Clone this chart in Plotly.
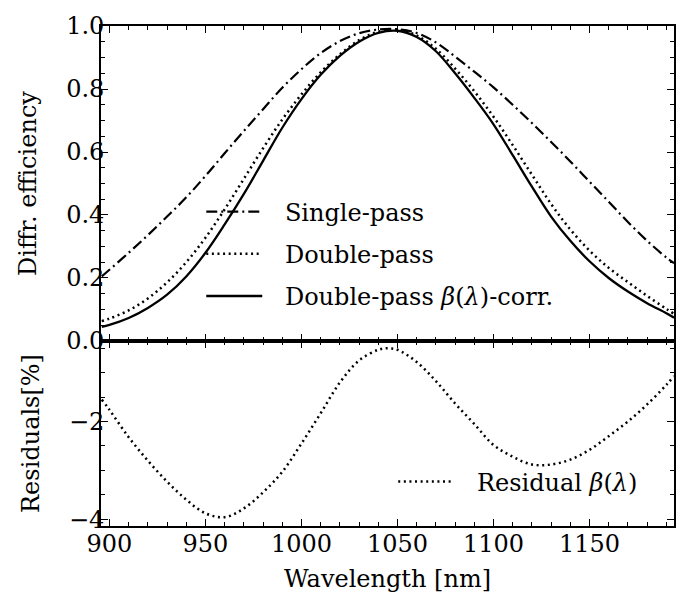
import plotly.graph_objects as go
from plotly.subplots import make_subplots

wavelength = [896, 900, 910, 920, 930, 940, 950, 960, 970, 980, 990, 1000, 1010, 1020,
              1030, 1040, 1050, 1060, 1070, 1080, 1090, 1100, 1110, 1120, 1130, 1140,
              1150, 1160, 1170, 1180, 1190, 1194]
single_pass = [0.205, 0.226, 0.280, 0.336, 0.395, 0.456, 0.524, 0.596, 0.667, 0.736, 0.804,
               0.863, 0.914, 0.952, 0.977, 0.989, 0.990, 0.978, 0.948, 0.903, 0.855, 0.805,
               0.750, 0.692, 0.632, 0.570, 0.506, 0.442, 0.378, 0.318, 0.265, 0.247]
double_pass = [0.063, 0.071, 0.097, 0.135, 0.186, 0.250, 0.328, 0.418, 0.515, 0.612, 0.703,
               0.783, 0.853, 0.910, 0.955, 0.982, 0.988, 0.970, 0.928, 0.865, 0.793, 0.712,
               0.622, 0.528, 0.435, 0.354, 0.287, 0.232, 0.187, 0.143, 0.102, 0.086]
double_pass_corr = [0.045, 0.051, 0.073, 0.105, 0.147, 0.205, 0.280, 0.370, 0.467, 0.572,
                    0.677, 0.768, 0.845, 0.905, 0.950, 0.978, 0.985, 0.965, 0.920, 0.850,
                    0.772, 0.688, 0.590, 0.490, 0.395, 0.318, 0.253, 0.200, 0.157, 0.120,
                    0.088, 0.074]
residual_wl = [896, 900, 910, 920, 930, 940, 950, 960, 970, 980, 990, 1000, 1010, 1020, 1030,
               1040, 1045, 1050, 1060, 1070, 1080, 1090, 1100, 1110, 1120, 1130, 1140, 1150,
               1160, 1170, 1180, 1190, 1194]
residual = [-1.55, -1.76, -2.32, -2.80, -3.23, -3.60, -3.88, -3.96, -3.78, -3.45, -3.03, -2.45,
            -1.83, -1.20, -0.75, -0.53, -0.50, -0.53, -0.78, -1.17, -1.63, -2.05, -2.48, -2.72,
            -2.88, -2.88, -2.78, -2.58, -2.30, -2.00, -1.65, -1.25, -1.07]

top_ticks = [0.0, 0.2, 0.4, 0.6, 0.8, 1.0]
bottom_ticks = [-4, -2]
x_ticks = [900, 950, 1000, 1050, 1100, 1150]

FONT = "DejaVu Serif"
FS = 24
PAD = "\u00a0\u00a0\u200a"

fig = make_subplots(rows=2, cols=1, shared_xaxes=True, vertical_spacing=0,
                    row_heights=[0.63, 0.37])

fig.add_trace(go.Scatter(x=wavelength, y=single_pass, mode="lines", name=PAD + "Single-pass",
                         line=dict(color="black", width=2.2, dash="11px,4px,2px,4px", shape="spline"),
                         legend="legend", legendgroup="a"), row=1, col=1)
fig.add_trace(go.Scatter(x=wavelength, y=double_pass, mode="lines", name=PAD + "Double-pass",
                         line=dict(color="black", width=2.5, dash="2px,3.6px", shape="spline"),
                         legend="legend", legendgroup="b"), row=1, col=1)
fig.add_trace(go.Scatter(x=wavelength, y=double_pass_corr, mode="lines",
                         name=PAD + "Double-pass <i>β</i>(<i>λ</i>)-corr.",
                         line=dict(color="black", width=2.3, shape="spline"),
                         legend="legend", legendgroup="c"), row=1, col=1)
fig.add_trace(go.Scatter(x=residual_wl, y=residual, mode="lines",
                         name=PAD + "Residual <i>β</i>(<i>λ</i>)",
                         line=dict(color="black", width=2.5, dash="2px,3.6px", shape="spline"),
                         legend="legend2"), row=2, col=1)

axis_common = dict(showline=True, linecolor="black", linewidth=1.6, mirror="allticks",
                   ticks="inside", ticklen=7, tickwidth=1.4, tickcolor="black",
                   showgrid=False, zeroline=False, ticklabeloverflow="allow",
                   tickfont=dict(family=FONT, size=FS, color="black"))

fig.update_xaxes(**axis_common, range=[895.6, 1194], tickvals=x_ticks,
                 minor=dict(ticks="inside", ticklen=4, tickwidth=1.2, dtick=10, tick0=900,
                            tickcolor="black"))
fig.update_xaxes(showticklabels=False, row=1, col=1)
fig.update_xaxes(ticklabelstandoff=-5,
                 title=dict(text="Wavelength [nm]", font=dict(family=FONT, size=FS, color="black"),
                            standoff=14), row=2, col=1)

fig.update_yaxes(**axis_common, row=1, col=1, range=[-0.0001, 1.0001], tickvals=top_ticks,
                 tickformat=".1f", ticklabelstandoff=-10,
                 minor=dict(ticks="inside", ticklen=4, tickwidth=1.2, dtick=0.05, tick0=0,
                            tickcolor="black"),
                 title=dict(text="Diffr. efficiency", font=dict(family=FONT, size=FS, color="black"),
                            standoff=23))
fig.update_yaxes(**axis_common, row=2, col=1, range=[-4.14, -0.35], tickvals=bottom_ticks,
                 ticklabelstandoff=-10,
                 minor=dict(ticks="inside", ticklen=4, tickwidth=1.2, dtick=0.5, tick0=0,
                            tickcolor="black"),
                 title=dict(text="Residuals[%]", font=dict(family=FONT, size=FS, color="black"),
                            standoff=23))

fig.update_layout(
    width=691, height=603,
    margin=dict(l=101, r=17, t=15, b=77),
    paper_bgcolor="white", plot_bgcolor="white",
    font=dict(family=FONT, size=FS, color="black"),
    legend=dict(x=0.175, y=0.673, xanchor="left", yanchor="top",
                bgcolor="rgba(0,0,0,0)", borderwidth=0, itemwidth=56,
                tracegroupgap=8, font=dict(family=FONT, size=FS, color="black")),
    legend2=dict(x=0.51, y=0.088, xanchor="left", yanchor="middle",
                 bgcolor="rgba(0,0,0,0)", borderwidth=0, itemwidth=56,
                 font=dict(family=FONT, size=FS, color="black")),
)

fig.write_html("out.html")
